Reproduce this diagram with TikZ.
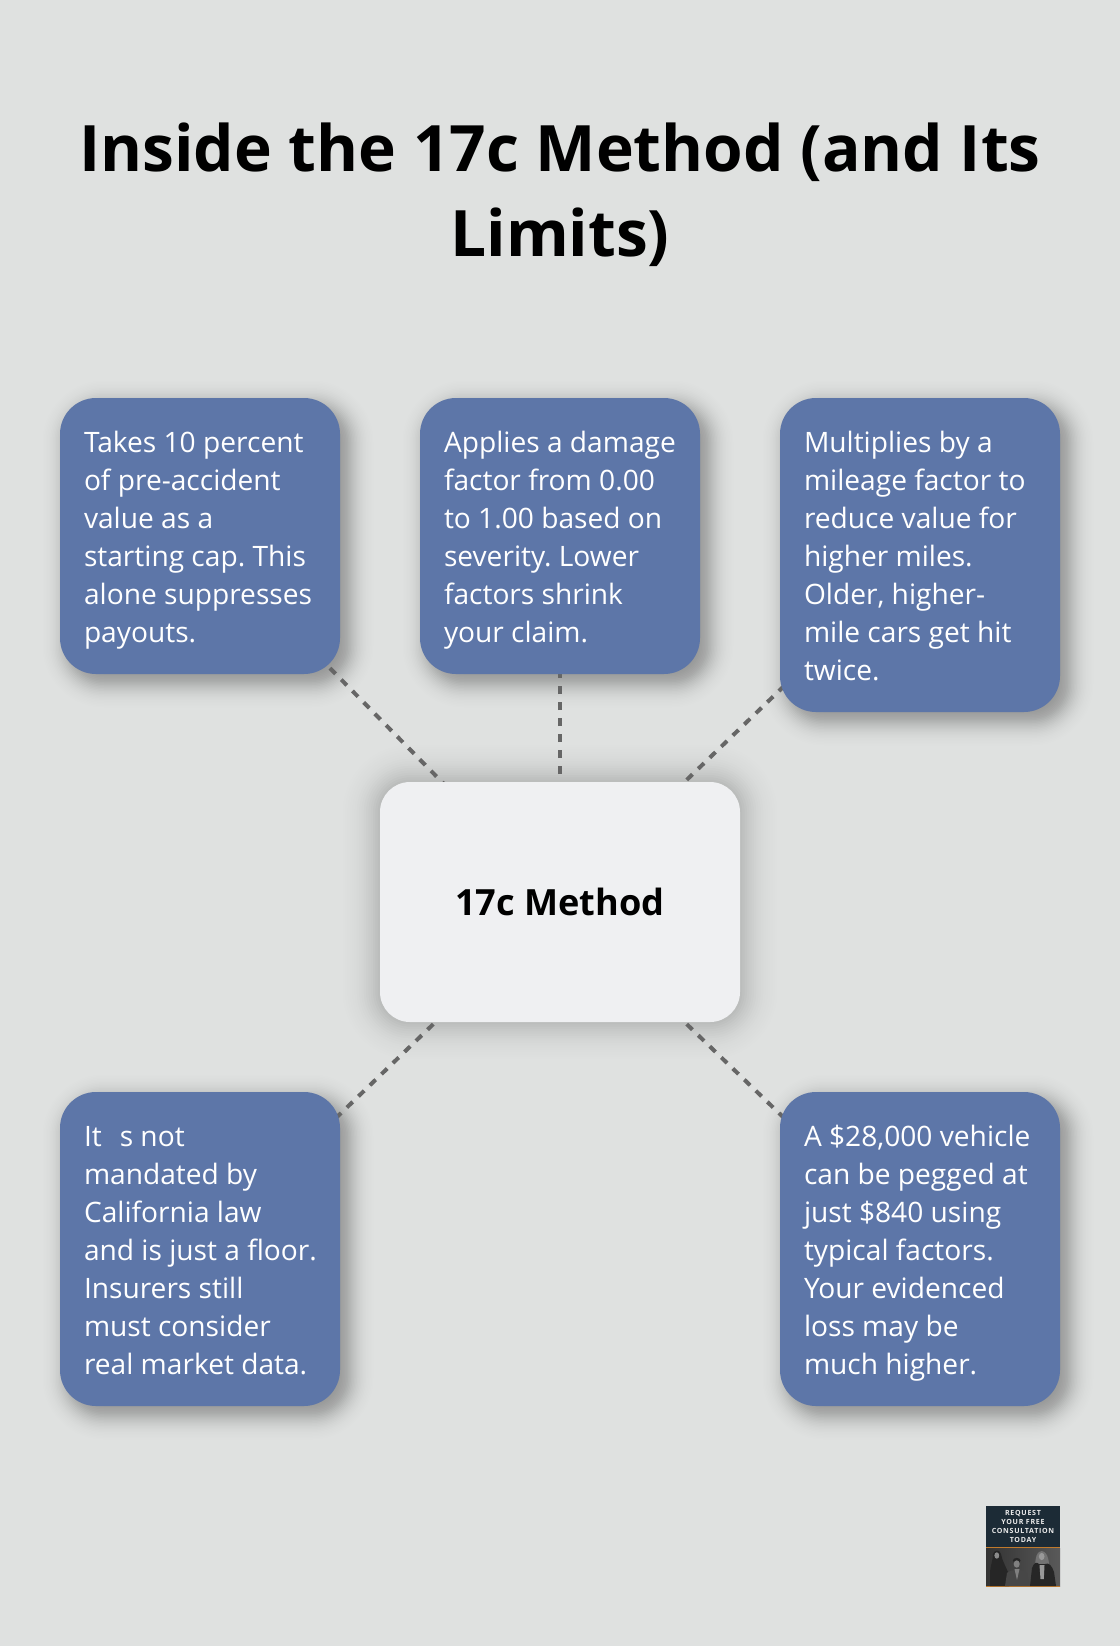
\documentclass[tikz,border=0pt]{standalone}
\usepackage{fontspec}
\setmainfont{Open Sans}
\definecolor{pagebg}{HTML}{DFE1E0}
\definecolor{boxblue}{HTML}{5D76A8}
\definecolor{centerfill}{HTML}{EFF0F2}
\definecolor{linegray}{HTML}{666666}
\definecolor{logodark}{HTML}{1C2B36}
\definecolor{logoorange}{HTML}{C07A2C}
\pgfdeclarelayer{backdrop}
\pgfdeclarelayer{shadowlayer}
\pgfdeclarelayer{linelayer}
\pgfsetlayers{backdrop,shadowlayer,linelayer,main}
% gaussian-like soft shadow: node, dx, dy, sigma (all pt), corner radius (pt), peak opacity
\newcommand{\softshadow}[6]{%
  \foreach \z in {-2.5,-2.375,...,2.51}{%
    \pgfmathsetmacro{\dd}{\z*#4}%
    \pgfmathsetmacro{\rr}{max(1,#5+\dd)}%
    \pgfmathsetmacro{\xa}{#2-(\dd)}%
    \pgfmathsetmacro{\ya}{#3+(\dd)}%
    \pgfmathsetmacro{\xb}{#2+(\dd)}%
    \pgfmathsetmacro{\yb}{#3-(\dd)}%
    \pgfmathsetmacro{\aa}{#6*0.125*0.3989*exp(-0.5*\z*\z)}%
    \fill[black,opacity=\aa,rounded corners=\rr pt]
      ([xshift=\xa pt,yshift=\ya pt]#1.north west) rectangle ([xshift=\xb pt,yshift=\yb pt]#1.south east);
  }%
}
\newcommand{\boxlines}[1]{\raisebox{-3.15pt}[\height][\depth]{\makebox[174pt][l]{\begin{tabular}{@{}l@{}}#1\end{tabular}}}}
\tikzset{
  every node/.style={inner sep=0pt,outer sep=0pt},
  infobox/.style={fill=boxblue,text=white,rounded corners=27pt,
    inner xsep=18pt,minimum width=210pt,
    font=\fontsize{21.1}{28.5}\selectfont\frenchspacing},
  centerbox/.style={fill=centerfill,rounded corners=22.5pt,minimum width=270pt,minimum height=180pt,
    align=center,font=\fontsize{27.1}{36}\selectfont\bfseries,text=black},
  titletext/.style={align=center,font=\fontsize{48}{64}\selectfont\bfseries,text=black},
  link/.style={draw=linegray,line width=3pt,dash pattern=on 6pt off 6pt},
}
\begin{document}
\begin{tikzpicture}[x=0.75pt,y=-0.75pt]
\useasboundingbox (0,0) rectangle (1120,1646);
\begin{pgfonlayer}{backdrop}
\fill[pagebg] (0,0) rectangle (1120,1646);
\end{pgfonlayer}

\node[titletext] (title) at (560,195) {Inside the 17c Method (and Its\\Limits)};

\node[infobox,minimum height=207pt] (b1) at (200,536) {\boxlines{Takes 10 percent\\of pre-accident\\value as a\\starting cap. This\\alone suppresses\\payouts.}};
\node[infobox,minimum height=207pt] (b2) at (560,536) {\boxlines{Applies a damage\\factor from 0.00\\to 1.00 based on\\severity. Lower\\factors shrink\\your claim.}};
\node[infobox,minimum height=235.5pt] (b3) at (920,555) {\boxlines{Multiplies by a\\mileage factor to\\reduce value for\\higher miles.\\Older, higher-\\mile cars get hit\\twice.}};
\node[infobox,minimum height=235.5pt] (b4) at (200,1249) {\boxlines{It\hspace{13.5pt}s not\\mandated by\\California law\\and is just a floor.\\Insurers still\\must consider\\real market data.}};
\node[infobox,minimum height=235.5pt] (b5) at (920,1249) {\boxlines{A \$28,000 vehicle\\can be pegged at\\just \$840 using\\typical factors.\\Your evidenced\\loss may be\\much higher.}};
\node[centerbox] (c) at (560,902) {17c Method};

\begin{pgfonlayer}{shadowlayer}
\foreach \n in {b1,b2,b3,b4,b5}{
  \softshadow{\n}{6}{-6}{9}{27}{.4}
}
\softshadow{c}{0}{0}{14}{22.5}{.3}
\end{pgfonlayer}

\begin{pgfonlayer}{linelayer}
\foreach \n in {b1,b2,b3,b4,b5}{
  \draw[link] (c.center) -- (\n.center);
}
\end{pgfonlayer}

% logo
\node[fill=logodark,minimum width=55.5pt,minimum height=31pt,anchor=north west,text=white!92!black,align=center,
  font=\fontsize{5.3}{6.75}\selectfont\bfseries\addfontfeatures{LetterSpace=10}] (logo) at (986,1506) {REQUEST\\YOUR FREE\\CONSULTATION\\TODAY};
\shade[left color=black!80,middle color=black!45,right color=black!65] (986,1548) rectangle (1060,1586);
\fill[logoorange] (986,1547) rectangle (1060,1548.3);
\fill[logoorange] (986,1585.5) rectangle (1060,1586.3);
% left figure
\fill[black!85] (990,1586) -- (990,1572) .. controls (991,1563) and (993,1560) .. (993,1554) .. controls (994,1549.5) and (1000,1549.5) .. (1001,1554) .. controls (1002,1560) and (1005,1565) .. (1008,1572) -- (1009,1586) -- cycle;
\fill[black!45] (996.8,1555.5) ellipse (2.4 and 3.2);
% man
\fill[black!72] (1005,1586) -- (1007,1573) .. controls (1010,1569) and (1024,1569) .. (1027,1573) -- (1030,1586) -- cycle;
\fill[black!50] (1014.5,1569) -- (1019.5,1569) -- (1017,1580) -- cycle;
\fill[black!85] (1016.7,1560.5) ellipse (3.8 and 2.6);
\fill[black!50] (1016.7,1564) ellipse (3 and 3.7);
% right figure
\fill[black!55] (1035.5,1570) .. controls (1035,1562) and (1035,1552) .. (1041.7,1551) .. controls (1048.5,1552) and (1049,1562) .. (1049.5,1570) -- cycle;
\fill[black!85] (1030,1586) -- (1032,1568) .. controls (1034,1562) and (1037,1562) .. (1039,1564) -- (1045,1564) .. controls (1049,1562) and (1052,1566) .. (1054,1572) -- (1056,1586) -- cycle;
\fill[black!40] (1039.5,1565) -- (1044.5,1565) -- (1043.8,1579) -- (1040.5,1579) -- cycle;
\fill[black!40] (1041.7,1556.5) ellipse (2.8 and 3.6);
\end{tikzpicture}
\end{document}
